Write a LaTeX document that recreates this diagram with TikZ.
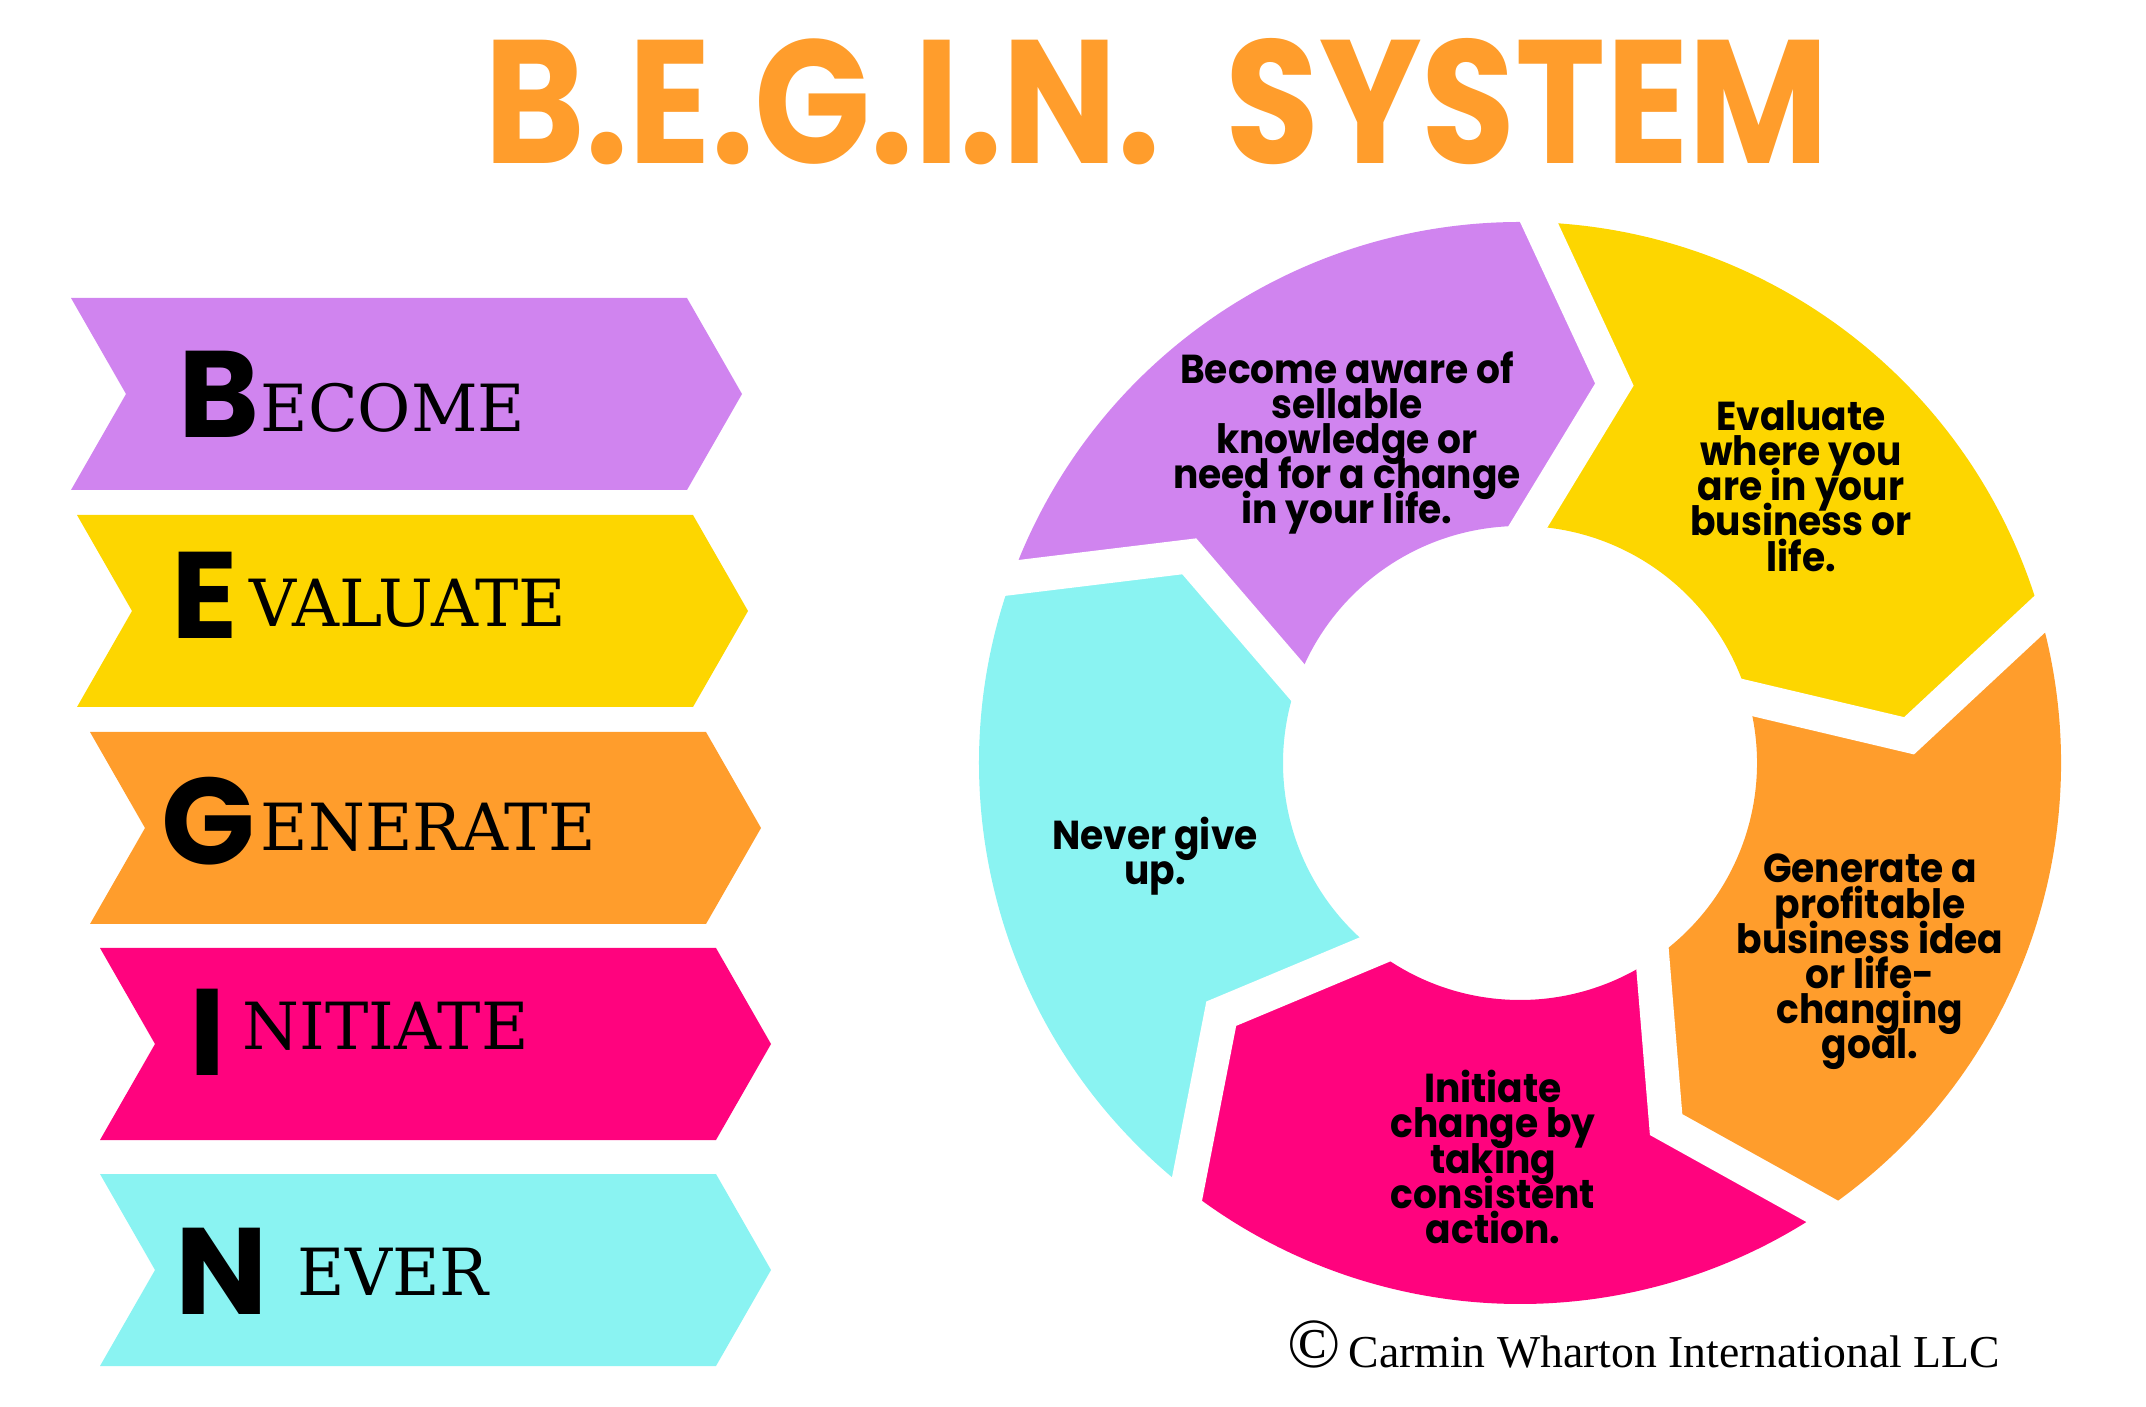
\documentclass[tikz,border=0pt]{standalone}
\usepackage{fontspec}
\setmainfont{Liberation Serif}
\newfontfamily\titlefont{Poppins}
\newfontfamily\headfont{Poppins}[FakeStretch=0.87]
\newfontfamily\ringfont{Poppins}[FakeStretch=0.93]
\newfontfamily\wordfont{DejaVu Serif}
\newcommand{\tightlines}{\setlength{\lineskiplimit}{-20pt}\setlength{\lineskip}{0pt}}
\usetikzlibrary{calc}

\definecolor{begpurple}{HTML}{D084EF}
\definecolor{begyellow}{HTML}{FDD600}
\definecolor{begorange}{HTML}{FF9D2C}
\definecolor{begpink}{HTML}{FF037E}
\definecolor{begcyan}{HTML}{8AF3F2}

\begin{document}
\begin{tikzpicture}[
    bigletter/.style={anchor=base west, inner sep=0pt, font=\titlefont\bfseries\fontsize{35pt}{35pt}\selectfont},
    word/.style={anchor=base west, inner sep=0pt, font=\wordfont\fontsize{18.5pt}{18.5pt}\selectfont},
    ringtext/.style={align=center, inner sep=0pt, font=\ringfont\bfseries\fontsize{11.5pt}{10pt}\selectfont\tightlines},
    gap/.style={white, line width=0.34cm, line join=miter}
  ]
  \useasboundingbox (0,0) rectangle (21.46,14.06);

  % Judul
  \node[anchor=base, inner sep=0pt, text=begorange, font=\headfont\bfseries\fontsize{50pt}{50pt}\selectfont] (title) at (11.57,12.42) {B.E.G.I.N.\ \ SYSTEM};

  % Panah kiri
  \foreach \x/\y/\col in {0.71/11.08/begpurple, 0.77/8.91/begyellow, 0.90/6.74/begorange, 1.00/4.58/begpink, 1.00/2.32/begcyan}
    \fill[\col] (\x,\y) -- ++(6.16,0) -- ++(0.55,-0.96) -- ++(-0.55,-0.96) -- ++(-6.16,0) -- ++(0.55,0.96) -- cycle;

  \node[bigletter] (b) at (1.78,9.68) {B};
  \node[word] (become) at (2.60,9.74) {ECOME};
  \node[bigletter] (e) at (1.71,7.67) {E};
  \node[word] (evaluate) at (2.49,7.79) {VALUATE};
  \node[bigletter] (g) at (1.61,5.41) {G};
  \node[word] (generate) at (2.60,5.55) {ENERATE};
  \node[bigletter] (i) at (1.89,3.30) {I};
  \node[word] (initiate) at (2.42,3.56) {NITIATE};
  \node[bigletter] (n) at (1.75,0.92) {N};
  \node[word] (never) at (2.97,1.11) {EVER};

  % Lingkaran siklus
  \begin{scope}[shift={(15.20,6.43)}]
    \def\ro{5.41}
    \def\ri{2.37}
    \def\rm{3.9}
    \foreach \e/\col in {88/begpurple, 16/begyellow, -56/begorange, -128/begpink, -200/begcyan}
      \fill[\col] (\e+72:\ro) arc[start angle=\e+72, end angle=\e, radius=\ro] -- (\e-12:\rm) -- (\e:\ri) arc[start angle=\e, end angle=\e+72, radius=\ri] -- (\e+60:\rm) -- cycle;
    \foreach \e in {88,16,-56,-128,-200}
      \draw[gap] ($(\e-12:\rm)!1.25!(\e:\ro)$) -- (\e-12:\rm) -- ($(\e-12:\rm)!1.3!(\e:\ri)$);
  \end{scope}

  \node[ringtext] (aware) at (13.47,9.63) {Become aware of\\sellable\\knowledge or\\need for a change\\in your life.};
  \node[ringtext] (where) at (18.01,9.20) {Evaluate\\where you\\are in your\\business or\\life.};
  \node[ringtext] (idea) at (18.70,4.44) {Generate a\\profitable\\business idea\\or life-\\changing\\goal.};
  \node[ringtext] (action) at (14.93,2.49) {Initiate\\change by\\taking\\consistent\\action.};
  \node[ringtext] (giveup) at (11.55,5.50) {Never give\\up.};

  % Hak cipta
  \node[anchor=base west, inner sep=0pt, font=\fontsize{13pt}{13pt}\selectfont] (copy) at (12.87,0.39) {{\fontsize{20pt}{20pt}\selectfont ©}\,Carmin Wharton International LLC};
\end{tikzpicture}
\end{document}
